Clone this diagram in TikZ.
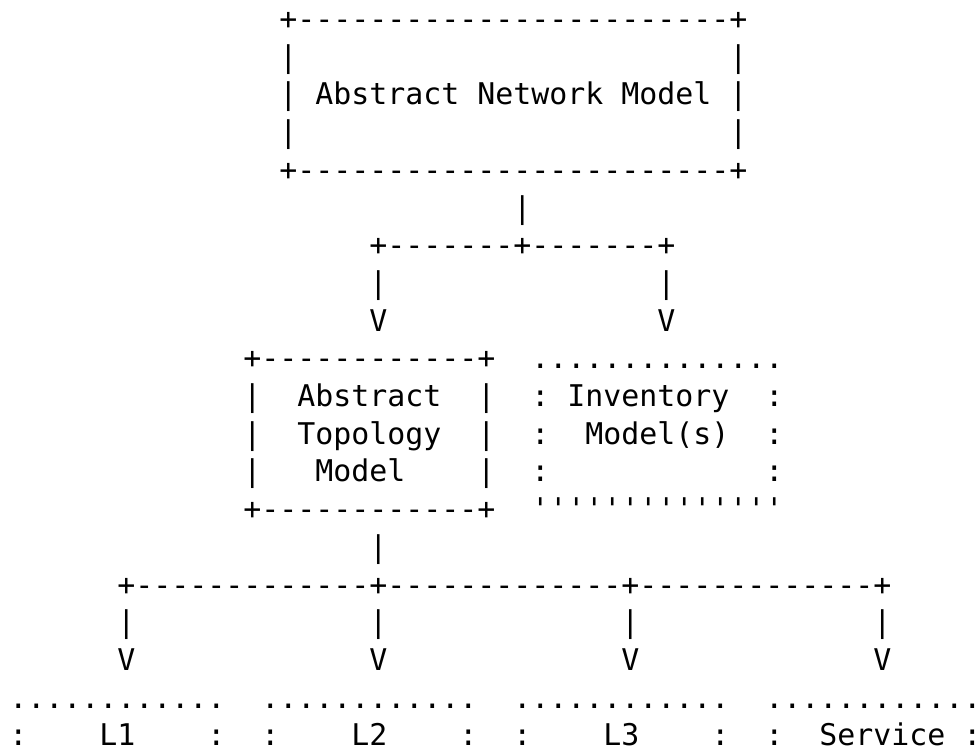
\documentclass[tikz,border=0pt]{standalone}
\usepackage{fontspec}
\setmonofont{DejaVu Sans Mono}
\begin{document}
\begin{tikzpicture}[
  ch/.style={anchor=base west, inner sep=0pt, outer sep=0pt,
    font=\ttfamily\fontsize{14.95pt}{18pt}\selectfont, text=black}]
\useasboundingbox (0,0) rectangle (490pt,376pt);
\begin{scope}[shift={(4.65pt,361.25pt)}, x=9pt, y=-18.85pt]
% Abstract Network Model box
\node[ch] (anmTop) at (15,0) {+------------------------+};
\node[ch] (anmL1) at (15,1) {|};
\node[ch] (anmR1) at (40,1) {|};
\node[ch] (anmL2) at (15,2) {|};
\node[ch] (anm) at (17,2) {Abstract Network Model};
\node[ch] (anmR2) at (40,2) {|};
\node[ch] (anmL3) at (15,3) {|};
\node[ch] (anmR3) at (40,3) {|};
\node[ch] (anmBot) at (15,4) {+------------------------+};
% first fan-out
\node[ch] (v1) at (28,5) {|};
\node[ch] (fan1) at (20,6) {+-------+-------+};
\node[ch] (v2a) at (20,7) {|};
\node[ch] (v2b) at (36,7) {|};
\node[ch] (arA) at (20,8) {V};
\node[ch] (arB) at (36,8) {V};
% Abstract Topology Model box
\node[ch] (atmTop) at (13,9) {+------------+};
\node[ch] (atmL1) at (13,10) {|};
\node[ch] (atm1) at (16,10) {Abstract};
\node[ch] (atmR1) at (26,10) {|};
\node[ch] (atmL2) at (13,11) {|};
\node[ch] (atm2) at (16,11) {Topology};
\node[ch] (atmR2) at (26,11) {|};
\node[ch] (atmL3) at (13,12) {|};
\node[ch] (atm3) at (17,12) {Model};
\node[ch] (atmR3) at (26,12) {|};
\node[ch] (atmBot) at (13,13) {+------------+};
% Inventory Model(s) dotted box
\node[ch] (invTop) at (29,9) {..............};
\node[ch] (invL1) at (29,10) {:};
\node[ch] (inv1) at (31,10) {Inventory};
\node[ch] (invR1) at (42,10) {:};
\node[ch] (invL2) at (29,11) {:};
\node[ch] (inv2) at (32,11) {Model(s)};
\node[ch] (invR2) at (42,11) {:};
\node[ch] (invL3) at (29,12) {:};
\node[ch] (invR3) at (42,12) {:};
\node[ch] (invBot) at (29,13) {''''''''''''''};
% second fan-out
\node[ch] (v3) at (20,14) {|};
\node[ch] (fan2) at (6,15) {+-------------+-------------+-------------+};
\foreach \c/\n in {6/a,20/b,34/c,48/d}{
  \node[ch] (bar\n) at (\c,16) {|};
  \node[ch] (arr\n) at (\c,17) {V};
}
% bottom dotted boxes
\foreach \c/\n in {0/a,14/b,28/c,42/d}{
  \node[ch] (dots\n) at (\c,18) {............};
  \node[ch] (lcol\n) at (\c,19) {:};
  \node[ch] (rcol\n) at (\c+11,19) {:};
}
\node[ch] (lone) at (5,19) {L1};
\node[ch] (ltwo) at (19,19) {L2};
\node[ch] (lthree) at (33,19) {L3};
\node[ch] (serv) at (45,19) {Service};
\end{scope}
\end{tikzpicture}
\end{document}
